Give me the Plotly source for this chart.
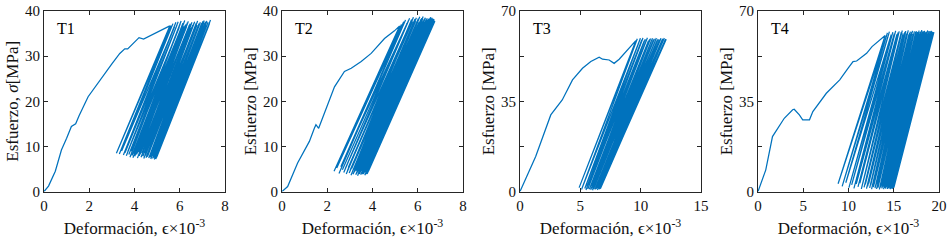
import plotly.graph_objects as go

# ---------------- data (strain in 1e-3, stress in MPa) ----------------
# T1
t1_env_x = [0, 0.2, 0.5, 0.77, 1.0, 1.21, 1.4, 1.55, 1.95, 2.3, 2.6, 3.0, 3.35, 3.57, 3.7, 3.9, 4.2, 4.4, 4.8, 5.2, 5.56]
t1_env_y = [0, 1.2, 4.5, 9.2, 11.8, 14.4, 15.0, 16.8, 21.0, 23.5, 25.5, 28.3, 30.6, 31.6, 31.6, 32.6, 34.1, 33.8, 34.8, 35.8, 36.7]
t1_val_x = [3.20, 3.33, 3.43, 3.51, 3.58, 3.64, 3.70, 3.75, 3.80, 3.85,
            3.89, 3.93, 3.97, 4.01, 4.05, 4.09, 4.13, 4.17, 4.21, 4.25,
            4.29, 4.33, 4.37, 4.41, 4.45, 4.48, 4.51, 4.54, 4.57, 4.60,
            4.63, 4.66, 4.69, 4.72, 4.74, 4.76, 4.78, 4.80, 4.82, 4.84,
            4.86, 4.87, 4.88, 4.89, 4.90, 4.91, 4.92, 4.94, 4.96, 4.98]
t1_val_y = [8.5, 8.3, 9.0, 8.1, 8.6, 7.9, 8.8, 8.2, 7.6, 8.9,
            8.0, 7.5, 8.4, 7.8, 9.1, 8.2, 7.4, 8.7, 7.9, 8.3,
            7.6, 8.5, 7.8, 7.3, 8.6, 8.0, 7.5, 8.8, 7.7, 8.2,
            7.4, 8.1, 7.6, 7.2, 8.0, 7.8, 8.4, 7.3, 7.9, 8.5,
            7.5, 8.2, 7.1, 7.8, 8.3, 7.4, 7.9, 7.2, 8.0, 7.6]
t1_pk_x = [5.62, 5.70, 5.77, 5.83, 5.88, 5.93, 5.98, 6.02, 6.06, 6.10,
           6.14, 6.18, 6.22, 6.26, 6.30, 6.34, 6.38, 6.42, 6.46, 6.50,
           6.54, 6.58, 6.62, 6.66, 6.70, 6.73, 6.76, 6.79, 6.82, 6.85,
           6.88, 6.91, 6.94, 6.97, 7.00, 7.02, 7.04, 7.06, 7.08, 7.10,
           7.12, 7.14, 7.16, 7.18, 7.20, 7.22, 7.25, 7.28, 7.32, 7.36]
t1_pk_y = [36.8, 37.2, 36.5, 37.5, 36.9, 37.6, 36.4, 37.1, 37.8, 36.7,
           37.3, 36.6, 37.9, 37.0, 36.5, 37.4, 37.7, 36.8, 37.2, 36.3,
           37.5, 36.9, 37.1, 37.6, 36.7, 37.3, 36.9, 37.8, 36.6, 37.2,
           37.0, 37.5, 36.8, 37.3, 37.1, 37.7, 36.6, 37.4, 37.9, 36.8,
           37.2, 37.6, 36.9, 37.4, 37.8, 37.0, 37.5, 36.7, 37.3, 38.0]

# T2
t2_env_x = [0, 0.25, 0.69, 1.21, 1.43, 1.5, 1.62, 1.87, 2.32, 2.76, 3.06, 3.5, 3.94, 4.53, 4.97, 5.2]
t2_env_y = [0, 1.1, 6.3, 11.1, 14.0, 14.8, 14.0, 17.3, 23.2, 26.6, 27.3, 28.8, 30.6, 33.9, 35.6, 36.7]
t2_val_x = [2.30, 2.42, 2.52, 2.60, 2.67, 2.73, 2.79, 2.84, 2.89, 2.93,
            2.97, 3.01, 3.05, 3.08, 3.11, 3.14, 3.17, 3.20, 3.23, 3.26,
            3.28, 3.30, 3.32, 3.34, 3.36, 3.38, 3.40, 3.42, 3.44, 3.46,
            3.48, 3.50, 3.52, 3.54, 3.55, 3.56, 3.57, 3.58, 3.59, 3.60,
            3.61, 3.62, 3.63, 3.64, 3.65, 3.66, 3.67, 3.68, 3.69, 3.70,
            3.71, 3.72, 3.73, 3.74, 3.75, 3.76, 3.77, 3.78, 3.80, 3.82]
t2_val_y = [4.5, 5.2, 4.0, 5.5, 4.8, 4.2, 5.0, 3.9, 4.6, 5.3,
            4.1, 4.7, 3.6, 5.1, 4.4, 3.8, 4.9, 4.3, 5.4, 3.7,
            4.6, 4.0, 5.0, 3.5, 4.5, 4.1, 4.8, 3.9, 5.2, 4.3,
            3.7, 4.6, 4.0, 5.0, 4.4, 3.8, 4.7, 4.2, 5.1, 3.9,
            4.5, 4.1, 4.8, 4.3, 4.6, 3.6, 4.9, 4.2, 5.0, 3.8,
            4.4, 4.7, 4.0, 5.2, 4.3, 3.9, 4.6, 4.1, 4.8, 4.5]
t2_pk_x = [5.28, 5.38, 5.46, 5.53, 5.59, 5.64, 5.69, 5.73, 5.77, 5.81,
           5.85, 5.88, 5.91, 5.94, 5.97, 6.00, 6.03, 6.06, 6.09, 6.12,
           6.14, 6.16, 6.18, 6.20, 6.22, 6.24, 6.26, 6.28, 6.30, 6.32,
           6.34, 6.36, 6.38, 6.40, 6.42, 6.44, 6.46, 6.48, 6.50, 6.51,
           6.52, 6.53, 6.54, 6.55, 6.56, 6.57, 6.58, 6.59, 6.60, 6.61,
           6.62, 6.63, 6.64, 6.65, 6.66, 6.68, 6.70, 6.72, 6.74, 6.76]
t2_pk_y = [37.0, 37.6, 38.0, 37.3, 37.9, 38.4, 37.5, 38.1, 37.7, 38.6,
           37.4, 38.2, 37.8, 38.5, 37.6, 38.0, 38.3, 37.5, 38.7, 37.9,
           38.1, 37.4, 38.4, 37.8, 38.2, 38.8, 37.7, 38.0, 38.3, 37.6,
           38.5, 37.9, 38.1, 37.5, 38.4, 38.0, 37.8, 38.2, 37.6, 38.3,
           37.9, 38.1, 37.7, 38.0, 37.8, 38.6, 37.5, 38.2, 37.9, 38.4,
           37.7, 38.1, 38.5, 37.6, 38.0, 38.3, 37.8, 38.2, 37.9, 37.8]

# T3
t3_env_x = [0, 1.3, 2.55, 3.5, 4.35, 5.18, 5.87, 6.56, 6.84, 7.39, 7.8, 8.22, 9.6]
t3_env_y = [0, 13.6, 29.7, 35.5, 43.3, 47.8, 50.4, 52.1, 51.3, 51.0, 49.7, 51.3, 58.5]
t3_val_x = [4.90, 5.10, 5.25, 5.37, 5.47, 5.55, 5.62, 5.69, 5.75, 5.81,
            5.86, 5.91, 5.96, 6.01, 6.06, 6.11, 6.16, 6.21, 6.26, 6.30,
            6.34, 6.38, 6.42, 6.46, 6.50, 6.54, 6.58, 6.62, 6.66, 6.70]
t3_val_y = [1.5, 0.8, 2.2, 1.2, 0.6, 1.9, 1.0, 2.5, 0.9, 1.6,
            0.7, 2.0, 1.3, 0.5, 1.8, 1.1, 2.3, 0.8, 1.5, 1.0,
            2.1, 1.4, 0.6, 1.7, 1.2, 2.4, 0.9, 1.5, 1.1, 1.8]
t3_pk_x = [9.72, 9.86, 9.98, 10.09, 10.19, 10.29, 10.38, 10.47, 10.56, 10.65,
           10.74, 10.82, 10.90, 10.98, 11.06, 11.14, 11.22, 11.30, 11.38, 11.46,
           11.54, 11.62, 11.69, 11.76, 11.83, 11.90, 11.96, 12.02, 12.07, 12.12]
t3_pk_y = [59.2, 58.6, 59.4, 58.8, 59.5, 58.4, 59.1, 58.7, 59.6, 58.5,
           59.0, 59.3, 58.6, 59.4, 58.9, 59.2, 58.5, 59.5, 58.8, 59.1,
           58.7, 59.0, 59.4, 58.6, 59.2, 58.9, 59.5, 58.7, 59.1, 59.0]

# T4
t4_env_x = [0, 0.86, 1.6, 2.34, 2.9, 3.83, 4.0, 4.57, 4.94, 5.69, 6.06, 7.55, 9.03, 9.96, 10.5, 10.9, 12.0, 12.6, 14.05]
t4_env_y = [0, 8.4, 21.3, 25.2, 28.4, 31.7, 31.9, 29.7, 27.8, 27.8, 31.0, 38.1, 43.3, 47.8, 50.4, 50.6, 53.6, 56.2, 60.5]
t4_val_x = [8.85, 9.30, 9.70, 10.05, 10.35, 10.60, 10.85, 11.05, 11.25, 11.42,
            11.58, 11.72, 11.86, 11.99, 12.11, 12.23, 12.34, 12.45, 12.55, 12.65,
            12.75, 12.84, 12.93, 13.02, 13.10, 13.18, 13.26, 13.34, 13.41, 13.48,
            13.55, 13.62, 13.69, 13.76, 13.82, 13.88, 13.94, 14.00, 14.05, 14.10,
            14.15, 14.20, 14.25, 14.30, 14.34, 14.38, 14.42, 14.46, 14.50, 14.54,
            14.57, 14.60, 14.63, 14.66, 14.69, 14.72, 14.75, 14.78, 14.80, 14.82,
            14.84, 14.86, 14.88, 14.90, 14.92, 14.94, 14.96, 14.98, 15.00, 15.02]
t4_val_y = [3.0, 2.0, 3.4, 1.5, 2.6, 1.2, 2.9, 1.8, 3.2, 1.0,
            2.3, 1.6, 2.8, 1.1, 2.0, 3.1, 1.4, 2.5, 0.9, 2.2,
            1.7, 3.0, 1.3, 2.4, 1.0, 2.7, 1.5, 2.1, 0.8, 2.9,
            1.6, 2.3, 1.2, 2.6, 1.9, 0.9, 2.4, 1.4, 2.8, 1.1,
            2.0, 1.7, 2.5, 1.0, 2.2, 1.5, 2.7, 1.2, 1.9, 1.6,
            2.3, 0.9, 2.1, 1.4, 2.6, 1.1, 1.8, 2.4, 1.3, 2.0,
            1.5, 2.2, 1.0, 1.7, 2.5, 1.2, 1.9, 1.4, 2.1, 1.6]
t4_pk_x = [14.30, 14.52, 14.72, 14.90, 15.06, 15.21, 15.35, 15.48, 15.60, 15.72,
           15.83, 15.94, 16.04, 16.14, 16.24, 16.33, 16.42, 16.51, 16.60, 16.68,
           16.76, 16.84, 16.92, 17.00, 17.07, 17.14, 17.21, 17.28, 17.35, 17.42,
           17.49, 17.56, 17.62, 17.68, 17.74, 17.80, 17.86, 17.92, 17.98, 18.04,
           18.10, 18.15, 18.20, 18.25, 18.30, 18.35, 18.40, 18.45, 18.50, 18.55,
           18.60, 18.65, 18.70, 18.75, 18.80, 18.85, 18.90, 18.95, 19.00, 19.04,
           19.08, 19.12, 19.16, 19.20, 19.24, 19.28, 19.32, 19.36, 19.40, 19.44]
t4_pk_y = [61.5, 62.0, 60.8, 61.8, 61.2, 62.3, 60.9, 61.6, 62.1, 61.0,
           61.7, 62.4, 61.3, 60.7, 61.9, 62.2, 61.1, 61.6, 62.5, 60.9,
           61.4, 62.0, 61.2, 61.8, 62.3, 61.0, 61.5, 62.1, 60.8, 61.7,
           62.2, 61.3, 61.9, 60.9, 61.6, 62.4, 61.1, 61.8, 62.0, 61.4,
           62.6, 61.2, 61.7, 62.1, 61.0, 61.5, 62.3, 61.3, 61.8, 61.6,
           62.0, 61.1, 61.9, 62.4, 61.3, 61.7, 62.2, 60.9, 61.6, 62.1,
           61.4, 61.8, 62.3, 61.2, 61.7, 62.0, 61.5, 61.9, 61.3, 61.8]

labels = ["T1", "T2", "T3", "T4"]
x_ranges = [[0, 8], [0, 8], [0, 15], [0, 20]]
x_ticks = [[0, 2, 4, 6, 8], [0, 2, 4, 6, 8], [0, 5, 10, 15], [0, 5, 10, 15, 20]]
y_ranges = [[0, 40], [0, 40], [0, 70], [0, 70]]
y_ticks = [[0, 10, 20, 30, 40], [0, 10, 20, 30, 40], [0, 35, 70], [0, 35, 70]]
y_minor = [[], [], [17.5, 52.5], [17.5, 52.5]]
y_titles = ["Esfuerzo, <i>σ</i>[MPa]", "Esfuerzo [MPa]", "Esfuerzo [MPa]", "Esfuerzo [MPa]"]
x_title = "Deformación, ϵ×10<sup>-3</sup>"

series = [
    (t1_env_x, t1_env_y, t1_val_x, t1_val_y, t1_pk_x, t1_pk_y),
    (t2_env_x, t2_env_y, t2_val_x, t2_val_y, t2_pk_x, t2_pk_y),
    (t3_env_x, t3_env_y, t3_val_x, t3_val_y, t3_pk_x, t3_pk_y),
    (t4_env_x, t4_env_y, t4_val_x, t4_val_y, t4_pk_x, t4_pk_y),
]

# ---------------- figure ----------------
W, H = 950, 245
lefts = [44, 282, 520, 758]
pw = 181
top_px, bot_px = 11, 191.5
FONT = "Liberation Serif"
LINE = "#0072BD"
AX = "#262626"
TXT = "#111111"

fig = go.Figure()
layout = dict(
    template="none",
    width=W, height=H, autosize=False, margin=dict(l=0, r=0, t=0, b=0, pad=0),
    paper_bgcolor="white", plot_bgcolor="white", showlegend=False,
    font=dict(family=FONT, size=15, color=TXT),
)
annotations = []
for i, (ex, ey, vx, vy, px, py) in enumerate(series):
    xs = list(ex)
    ys = list(ey)
    for a, b, c, d in zip(vx, vy, px, py):
        xs += [a, c]
        ys += [b, d]
    n = "" if i == 0 else str(i + 1)
    fig.add_trace(go.Scatter(x=xs, y=ys, mode="lines", line=dict(color=LINE, width=1.25),
                             xaxis="x" + n, yaxis="y" + n, hoverinfo="skip"))
    x0 = lefts[i] / W
    x1 = (lefts[i] + pw) / W
    common = dict(showgrid=False, zeroline=False, showline=True, linecolor=AX, linewidth=1,
                  mirror="ticks", ticks="inside", ticklen=4, tickcolor=AX, automargin=False,
                  tickfont=dict(family=FONT, size=15, color=TXT), fixedrange=True)
    layout["xaxis" + n] = dict(common, domain=[x0, x1], range=x_ranges[i], tickvals=x_ticks[i],
                               anchor="y" + n,
                               title=dict(text=x_title, standoff=9,
                                          font=dict(family=FONT, size=17, color=TXT)))
    ya = dict(common, domain=[1 - bot_px / H, 1 - top_px / H], range=y_ranges[i],
              tickvals=y_ticks[i], anchor="x" + n,
              title=dict(text=y_titles[i], standoff=2,
                         font=dict(family=FONT, size=17, color=TXT)))
    if y_minor[i]:
        ya["minor"] = dict(tickvals=y_minor[i], ticks="inside", ticklen=4, tickcolor=AX, showgrid=False)
    layout["yaxis" + n] = ya
    # panel label
    annotations.append(dict(text=labels[i], x=(lefts[i] + 11) / W, y=(H - 29) / H,
                            xref="paper", yref="paper",
                            showarrow=False, xanchor="left", yanchor="middle",
                            font=dict(family=FONT, size=16, color="#000")))

layout["annotations"] = annotations
fig.update_layout(**layout)

post = (
    "document.documentElement.style.margin='0';"
    "document.documentElement.style.overflow='hidden';"
    "document.body.style.margin='0';"
    "document.body.style.overflow='hidden';"
    "var g=document.getElementsByClassName('plotly-graph-div')[0];"
    "if(g){g.style.position='fixed';g.style.left='0px';g.style.top='0px';}"
)
fig.write_html("out.html", post_script=post,
               config={"displayModeBar": False, "responsive": False, "staticPlot": True})
